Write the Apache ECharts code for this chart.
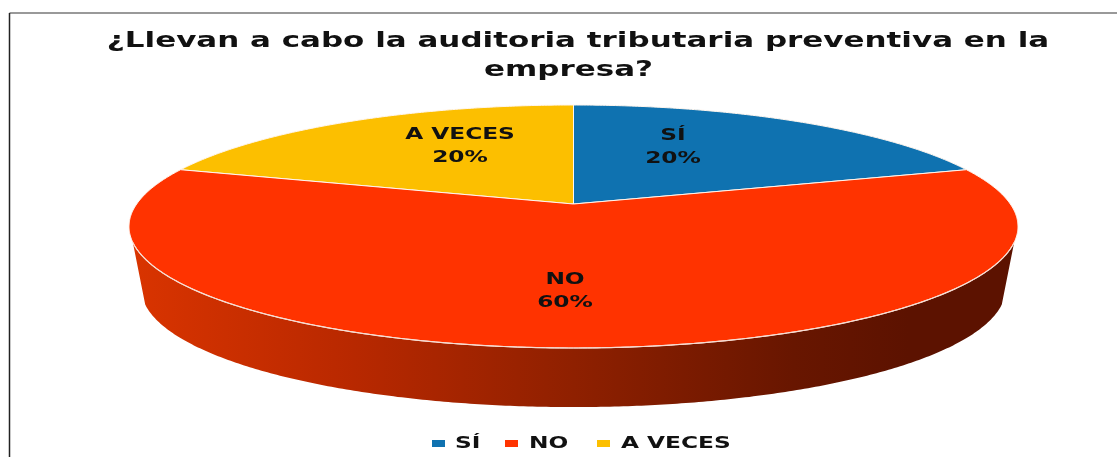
<!DOCTYPE html>
<html>
<head>
<meta charset="utf-8">
<title>Auditoria tributaria</title>
<style>
  html, body { margin: 0; padding: 0; background: #fff; }
  #chart { width: 1117px; height: 457px; }
</style>
<script src="https://cdn.jsdelivr.net/npm/echarts@6/dist/echarts.min.js"></script>
</head>
<body>
<div id="chart"></div>
<script>
const categories = ["SÍ", "NO", "A VECES"];
const percentValues = [20, 60, 20];
const sliceColors = ["#0f72b0", "#ff3300", "#fcbf00"];
const titleLines = ["¿Llevan a cabo la auditoria tributaria preventiva en la", "empresa?"];

const FONT = "'DejaVu Sans', sans-serif";
// el original tiene todo el texto estirado a lo ancho
const TEXT_STRETCH = 1.41;
const TITLE_STRETCH = 1.44;

// tapa del pastel: circulo proyectado con perspectiva (el vertice no cae en el centro de la elipse)
const apexX = 573.5, apexY = 204;
const persp = 0.1852, radX = 436.8, radY = 117.33;
const ellipseCy = 226.5;
// base del pastel, un poco mas chica y mas abajo
const baseScale = 0.972, baseCy = 289;
const frontLimit = 108; // grados donde empieza a verse la pared

const titlePos = [[578, 41], [568.5, 70]];
const labelPos = { "SÍ": [673, 147], "NO": [565, 291], "A VECES": [460, 146] };
const legendPos = { "SÍ": [432, 455], "NO": [505, 529], "A VECES": [597, 621] };

const topPoint = (deg, r = 1) => {
  const a = deg * Math.PI / 180;
  const w = 1 + persp * r * Math.cos(a);
  return [apexX + radX * r * Math.sin(a) / w, apexY - radY * r * Math.cos(a) / w];
};
const basePoint = (deg) => {
  const p = topPoint(deg);
  return [apexX + baseScale * (p[0] - apexX), baseCy + baseScale * (p[1] - ellipseCy)];
};
const arcPoints = (fn, from, to) => {
  const pts = [];
  const steps = Math.max(2, Math.ceil(Math.abs(to - from) * 2));
  for (let i = 0; i <= steps; i++) pts.push(fn(from + (to - from) * i / steps));
  return pts;
};

const total = percentValues.reduce((a, b) => a + b, 0);
const startAngles = percentValues.map((_, i) =>
  percentValues.slice(0, i).reduce((a, b) => a + b, 0) / total * 360);

const wallGradient = {
  type: "linear", x: 0, y: 0, x2: 1, y2: 0,
  colorStops: [
    { offset: 0, color: "#d93400" },
    { offset: 0.25, color: "#b82800" },
    { offset: 0.5, color: "#8f2000" },
    { offset: 0.75, color: "#681600" },
    { offset: 0.88, color: "#5c1200" },
    { offset: 1, color: "#5c1200" }
  ]
};

const makeSeries = (name, idx) => ({
  name,
  type: "custom",
  coordinateSystem: "none",
  itemStyle: { color: sliceColors[idx] },
  // el NO tiene que quedar encima de los otros por la pared
  z: idx === 1 ? 3 : 2,
  data: [percentValues[idx]],
  silent: true,
  renderItem: (params, api) => {
    const start = startAngles[idx];
    const end = start + api.value(0) / total * 360;
    const children = [];
    const wallFrom = Math.max(start, frontLimit);
    const wallTo = Math.min(end, 360 - frontLimit);
    if (wallTo > wallFrom) {
      const upper = arcPoints(topPoint, wallFrom, wallTo);
      const lower = arcPoints(basePoint, wallTo, wallFrom);
      children.push({
        type: "polygon",
        shape: { points: upper.concat(lower) },
        style: { fill: wallGradient }
      });
      children.push({
        type: "polyline",
        z2: 3,
        shape: { points: upper },
        style: { fill: null, stroke: "#f6dcd2", lineWidth: 1.2 }
      });
    }
    const rim = arcPoints(topPoint, start, end);
    children.push({
      type: "polygon",
      z2: 2,
      shape: { points: [[apexX, apexY]].concat(rim) },
      style: { fill: sliceColors[idx], stroke: "#fff6ee", lineWidth: 1 }
    });
    const pos = labelPos[name];
    children.push({
      type: "text",
      z2: 5,
      x: pos[0],
      y: pos[1],
      scaleX: TEXT_STRETCH,
      style: {
        text: name + "\n" + api.value(0) + "%",
        fill: "#111",
        font: "bold 16.5px " + FONT,
        lineHeight: 23,
        align: "center",
        verticalAlign: "middle"
      }
    });
    return { type: "group", children };
  }
});

// leyenda a mano: el componente legend no deja estirar el texto
const legendItems = categories.flatMap((name, i) => [
  {
    type: "rect",
    silent: true,
    shape: { x: legendPos[name][0], y: 440, width: 13, height: 7 },
    style: { fill: sliceColors[i] }
  },
  {
    type: "text",
    silent: true,
    x: legendPos[name][1],
    y: 443.5,
    scaleX: TEXT_STRETCH,
    style: {
      text: name,
      fill: "#111",
      font: "bold 16.5px " + FONT,
      align: "left",
      verticalAlign: "middle"
    }
  }
]);

const titleItems = titleLines.map((line, i) => ({
  type: "text",
  silent: true,
  x: titlePos[i][0],
  y: titlePos[i][1],
  scaleX: TITLE_STRETCH,
  style: {
    text: line,
    fill: "#111",
    font: "bold 21.5px " + FONT,
    align: "center",
    verticalAlign: "middle"
  }
}));

const chart = echarts.init(document.getElementById("chart"));
chart.setOption({
  animation: false,
  backgroundColor: "#fff",
  graphic: [
    {
      type: "line",
      silent: true,
      shape: { x1: 9.5, y1: 13, x2: 1117, y2: 13 },
      style: { stroke: "#777", lineWidth: 1.5 }
    },
    {
      type: "line",
      silent: true,
      shape: { x1: 9.5, y1: 13, x2: 9.5, y2: 457 },
      style: { stroke: "#222", lineWidth: 1.5 }
    },
    ...titleItems,
    ...legendItems
  ],
  series: categories.map(makeSeries)
});
</script>
</body>
</html>
